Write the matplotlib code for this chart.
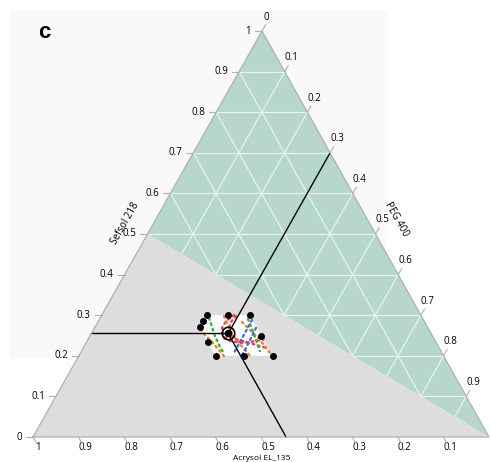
import numpy as np
import matplotlib.pyplot as plt
from matplotlib.patches import Polygon, Rectangle

# Mixture components: Acrysol EL 135 (bottom-left), Sefsol 218 (top), PEG 400 (bottom-right)
ticks = [0.0, 0.1, 0.2, 0.3, 0.4, 0.5, 0.6, 0.7, 0.8, 0.9, 1.0]
tick_labels = ['0', '0.1', '0.2', '0.3', '0.4', '0.5', '0.6', '0.7', '0.8', '0.9', '1']

# Design points (fractions of Sefsol 218 and PEG 400; Acrysol is the rest)
design_sefsol = [0.30, 0.30, 0.30, 0.285, 0.27, 0.235, 0.20, 0.20, 0.20, 0.25]
design_peg = [0.23, 0.2775, 0.325, 0.23, 0.23, 0.265, 0.30, 0.3625, 0.425, 0.375]

# Optimum formulation
opt_acrysol = 0.445
opt_sefsol = 0.255
opt_peg = 0.30

# Constrained design space
region_sefsol = [0.30, 0.30, 0.20, 0.20, 0.27]
region_peg = [0.23, 0.325, 0.425, 0.30, 0.23]

# Overlay contour lines (Sefsol, PEG)
contours = {
    'red': [
        ([0.3005, 0.2857, 0.2685, 0.2488, 0.2365, 0.2315, 0.2365, 0.240],
         [0.290, 0.280, 0.2796, 0.2917, 0.313, 0.344, 0.370, 0.385]),
        ([0.298, 0.2833, 0.2685, 0.2537, 0.2414, 0.2315, 0.2192],
         [0.2956, 0.2919, 0.295, 0.3046, 0.3217, 0.3596, 0.4009]),
    ],
    'orange': [
        ([0.266, 0.2488, 0.2315, 0.2143, 0.1995],
         [0.234, 0.2544, 0.2785, 0.3002, 0.3186]),
        ([0.298, 0.2734, 0.2512, 0.2315, 0.2143, 0.1995],
         [0.2693, 0.2904, 0.3125, 0.3355, 0.3572, 0.3757]),
        ([0.2833, 0.2635, 0.2438, 0.2241, 0.2069],
         [0.316, 0.3436, 0.371, 0.3963, 0.4158]),
    ],
    'green': [
        ([0.2931, 0.2709, 0.2488, 0.2266, 0.2094],
         [0.2388, 0.2566, 0.2741, 0.2941, 0.3116]),
        ([0.2906, 0.266, 0.2389, 0.2118],
         [0.3254, 0.3467, 0.3691, 0.3914]),
    ],
    'blue': [
        ([0.2882, 0.2611, 0.234, 0.2069],
         [0.3355, 0.336, 0.3364, 0.3368]),
        ([0.2685, 0.2438, 0.2192, 0.202],
         [0.3542, 0.3557, 0.357, 0.3568]),
    ],
}
line_colors = {'red': '#e8405a', 'orange': '#e8862a', 'green': '#3cae45', 'blue': '#3d6fe6'}

# Triangle corners in figure pixels
BL = np.array([33.0, 437.0])
BR = np.array([489.0, 437.0])
TOP = np.array([262.0, 31.0])


def tern(sefsol, peg):
    s = np.asarray(sefsol, dtype=float)
    p = np.asarray(peg, dtype=float)
    a = 1 - s - p
    x = a * BL[0] + p * BR[0] + s * TOP[0]
    y = a * BL[1] + p * BR[1] + s * TOP[1]
    return x, y


fig = plt.figure(figsize=(4.91, 4.62), dpi=100)
ax = fig.add_axes([0, 0, 1, 1])
ax.set_xlim(0, 491)
ax.set_ylim(462, 0)
ax.axis('off')

font = 'Open Sans'
ax.add_patch(Rectangle((10, 11), 377, 347, color='#f9f9f9', zorder=0, lw=0))

# green region (Sefsol > Acrysol)
gx, gy = tern([1.0, 0.0, 0.5], [0.0, 1.0, 0.0])
ax.add_patch(Polygon(np.column_stack([gx, gy]), closed=True, color='#b7d7ce', lw=0, zorder=1))

# grid lines every 0.1 in all three directions
for v in ticks[1:-1]:
    for s, p in [([v, v], [0, 1 - v]), ([0, 1 - v], [v, v]), ([0, 1 - v], [1 - v, 0])]:
        x, y = tern(s, p)
        ax.plot(x, y, color='white', lw=0.8, alpha=0.75, zorder=2)

# grey region (Acrysol > Sefsol)
rx, ry = tern([0.0, 0.5, 0.0], [0.0, 0.0, 1.0])
ax.add_patch(Polygon(np.column_stack([rx, ry]), closed=True, color='#dcdcdc', lw=0, alpha=0.96, zorder=3))

# design space
wx, wy = tern(region_sefsol, region_peg)
ax.add_patch(Polygon(np.column_stack([wx, wy]), closed=True, color='white', lw=0, zorder=4))

for name, curves in contours.items():
    for s, p in curves:
        x, y = tern(s, p)
        ax.plot(x, y, color=line_colors[name], lw=1.7, ls=(0, (0.8, 1.6)),
                dash_capstyle='round', zorder=5)

# guide lines from the optimum to each axis
ox, oy = tern(opt_sefsol, opt_peg)
for s, p in [([opt_sefsol], [0.0]), ([1 - opt_peg], [opt_peg]), ([0.0], [1 - opt_acrysol])]:
    ex, ey = tern(s, p)
    ax.plot([ox, ex[0]], [oy, ey[0]], color='black', lw=1.0, zorder=6)

dx, dy = tern(design_sefsol, design_peg)
ax.plot(dx, dy, 'o', color='black', ms=4, zorder=7)
ax.plot(ox, oy, 'o', mfc='none', mec='black', mew=1.2, ms=9, zorder=7)
ax.plot(ox, oy, 'o', color='black', ms=4.5, zorder=7)

# triangle outline
ex, ey = tern([0, 1, 0, 0], [0, 0, 1, 0])
ax.plot(ex, ey, color='#b0b0b0', lw=0.9, zorder=8)

# Sefsol 218 axis (left edge)
for v, lab in zip(ticks, tick_labels):
    x, y = tern([v], [0.0])
    ax.plot([x[0] - 7, x[0]], [y[0], y[0]], color='#b0b0b0', lw=0.8, zorder=8)
    ax.text(x[0] - 11, y[0], lab, ha='right', va='center', fontsize=7, family=font)

# PEG 400 axis (right edge)
for v, lab in zip(ticks, tick_labels):
    if v == 1.0:
        continue
    x, y = tern([1 - v], [v])
    ax.plot([x[0], x[0] + 3.5], [y[0], y[0] - 6.1], color='#b0b0b0', lw=0.8, zorder=8)
    ax.text(x[0] + 7 if v > 0 else x[0] + 4, y[0] - 14, lab, ha='center', va='center',
            fontsize=7, family=font)

# Acrysol EL 135 axis (bottom edge)
for v, lab in zip(ticks, tick_labels):
    if v == 0.0:
        continue
    x, y = tern([0.0], [1 - v])
    ax.plot([x[0], x[0] + 3.4], [y[0], y[0] + 6.1], color='#b0b0b0', lw=0.8, zorder=8)
    ax.text(x[0] + 7 if v < 1 else x[0] + 5, 448, lab, ha='center', va='center',
            fontsize=7, family=font)

ax.text(125, 223, 'Sefsol 218', rotation=60.6, ha='center', va='center',
        rotation_mode='anchor', fontsize=7, family=font)
ax.text(396, 219, 'PEG 400', rotation=-60.6, ha='center', va='center',
        rotation_mode='anchor', fontsize=7, family=font)
ax.text(262, 460, 'Acrysol EL_135', ha='center', va='baseline', fontsize=6, family=font)

ax.text(38, 32, 'c', fontsize=16, fontweight='bold', family='Liberation Sans',
        ha='left', va='center')

fig.savefig('out.png', dpi=100)
